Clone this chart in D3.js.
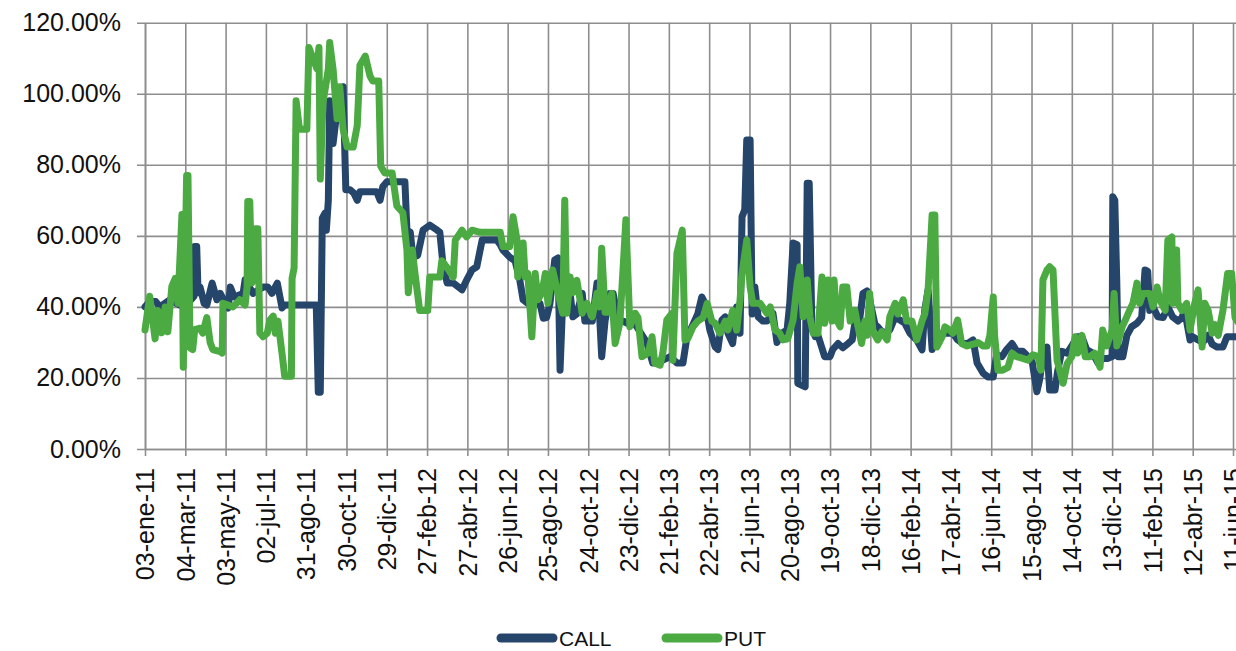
<!DOCTYPE html>
<html>
<head>
<meta charset="utf-8">
<script src="https://cdn.jsdelivr.net/npm/d3@7"></script>
<style>
  html, body { margin: 0; padding: 0; background: #ffffff; }
  svg { display: block; }
</style>
</head>
<body>
<svg id="chart" width="1236" height="651"></svg>
<script>
// ---------------- DATA ----------------
const seriesNames = ["CALL", "PUT"];

const tickDates = ["2011-01-03","2011-03-04","2011-05-03","2011-07-02","2011-08-31","2011-10-30","2011-12-29",
  "2012-02-27","2012-04-27","2012-06-26","2012-08-25","2012-10-24","2012-12-23","2013-02-21","2013-04-22",
  "2013-06-21","2013-08-20","2013-10-19","2013-12-18","2014-02-16","2014-04-17","2014-06-16","2014-08-15",
  "2014-10-14","2014-12-13","2015-02-11","2015-04-12","2015-06-11"];

const yTicks = [0, 20, 40, 60, 80, 100, 120];

const callDates = [
"2011-01-03","2011-01-10","2011-01-19","2011-01-25","2011-02-09","2011-02-24","2011-03-08","2011-03-17","2011-03-18","2011-03-21",
"2011-03-23","2011-03-26","2011-04-01","2011-04-05","2011-04-13","2011-04-20","2011-04-25","2011-05-07","2011-05-10","2011-05-16",
"2011-05-29","2011-06-01","2011-06-13","2011-06-28","2011-07-05","2011-07-11","2011-07-19","2011-07-26","2011-07-30","2011-09-10",
"2011-09-15","2011-09-18","2011-09-21","2011-09-24","2011-09-28","2011-09-30","2011-10-03","2011-10-05","2011-10-10","2011-10-16",
"2011-10-20","2011-10-25","2011-10-29","2011-11-04","2011-11-10","2011-11-15","2011-11-19","2011-12-14","2011-12-19","2011-12-23",
"2011-12-29","2012-01-25","2012-01-28","2012-02-02","2012-02-06","2012-02-13","2012-02-21","2012-03-02","2012-03-13","2012-03-17",
"2012-03-22","2012-03-28","2012-04-06","2012-04-19","2012-04-26","2012-05-04","2012-05-11","2012-05-16","2012-05-19","2012-06-10",
"2012-06-15","2012-06-19","2012-06-29","2012-07-07","2012-07-14","2012-07-19","2012-07-26","2012-08-03","2012-08-13","2012-08-18",
"2012-08-23","2012-08-28","2012-09-04","2012-09-09","2012-09-12","2012-09-16","2012-09-22","2012-09-27","2012-10-01","2012-10-07",
"2012-10-15","2012-10-19","2012-10-30","2012-11-06","2012-11-10","2012-11-13","2012-11-18","2012-11-25","2012-11-30","2012-12-06",
"2012-12-10","2012-12-15","2012-12-25","2012-12-30","2013-01-09","2013-01-19","2013-01-28","2013-02-12","2013-02-23","2013-03-05",
"2013-03-14","2013-03-20","2013-03-24","2013-04-01","2013-04-05","2013-04-11","2013-04-16","2013-04-23","2013-05-01","2013-05-05",
"2013-05-11","2013-05-16","2013-05-20","2013-05-27","2013-06-02","2013-06-07","2013-06-10","2013-06-14","2013-06-17","2013-06-22",
"2013-06-25","2013-06-29","2013-07-04","2013-07-11","2013-07-17","2013-07-26","2013-08-01","2013-08-08","2013-08-16","2013-08-20",
"2013-08-25","2013-08-31","2013-09-01","2013-09-12","2013-09-15","2013-09-18","2013-09-22","2013-09-27","2013-09-30","2013-10-11",
"2013-10-19","2013-10-23","2013-10-31","2013-11-07","2013-11-15","2013-11-21","2013-11-25","2013-12-02","2013-12-07","2013-12-13",
"2013-12-17","2013-12-25","2013-12-29","2014-01-06","2014-01-16","2014-01-24","2014-01-31","2014-02-07","2014-02-15","2014-02-25",
"2014-03-05","2014-03-09","2014-03-14","2014-03-20","2014-03-27","2014-04-04","2014-04-11","2014-04-20","2014-04-27","2014-05-05",
"2014-05-12","2014-05-20","2014-05-26","2014-06-04","2014-06-11","2014-06-19","2014-06-24","2014-07-02","2014-07-09","2014-07-17",
"2014-07-24","2014-08-02","2014-08-10","2014-08-16","2014-08-23","2014-08-27","2014-09-01","2014-09-07","2014-09-11","2014-09-19",
"2014-09-23","2014-09-29","2014-10-07","2014-10-14","2014-10-22","2014-10-29","2014-11-05","2014-11-14","2014-11-22","2014-11-29",
"2014-12-07","2014-12-13","2014-12-14","2014-12-17","2014-12-20","2014-12-22","2014-12-29","2015-01-04","2015-01-11","2015-01-19",
"2015-01-26","2015-01-31","2015-02-04","2015-02-07","2015-02-12","2015-02-19","2015-02-27","2015-03-06","2015-03-13","2015-03-21",
"2015-03-27","2015-03-31","2015-04-08","2015-04-12","2015-04-20","2015-04-27","2015-05-05","2015-05-11","2015-05-18","2015-05-27",
"2015-06-02","2015-06-09","2015-06-15","2015-06-24"];

const callValues = [
40,41.5,41.5,40,42,40.5,41,43,57,57,
44,45.6,41,40.5,46.7,42,43.8,39.7,45.6,42.8,
43.8,47.6,43.8,45.6,45.6,43.8,46.7,39.7,40.5,40.5,
40.5,16,16,65,66.4,61.6,70,98,86,95.4,
93,102,73,73,72,70,72.4,72.4,70,73.8,
75.2,75.2,61.6,61,54,54.5,61.6,63,61.6,61,
51.3,46.7,46.7,44.8,47.6,50.4,51.3,56,58.8,58.8,
57.5,56,54,53,47.6,42,41,42,41,36.8,
37,41,53.2,53.8,22.2,42,40,43.8,37.2,38,
43.8,36,36,46.7,37,26,36,43.8,43.8,38,
36,36,35,36,33,30,24.2,25,26,24.2,
24.2,31.6,33,36.3,38,42.8,41,33.5,28.7,28,
36.3,37.2,32.6,29.7,40,32.6,65.4,67.3,87,87,
38,45.6,37.2,36,36,38.2,30,32.6,33.5,41,
58,57.5,18.5,17.5,74.8,74.8,34,31.6,32.6,26,
26,28,29.7,28.5,29.7,30.7,35.4,36.3,43.8,44.5,
42,35,34.4,32.6,33.5,37.2,36.3,35.5,32.6,30.7,
27.9,39,44.8,28,31.6,32.6,32.6,32.6,30.7,29.7,
29.7,30.7,24.2,21.3,20.3,20.3,26.5,26,28,29.7,
27.5,27.5,26,24.5,16.1,19.5,26,28.7,16.6,16.6,
22,27.5,27,29,31.6,31.6,28,27,24.2,25.5,
25.5,26,71,70,46.7,26,26,32,34.4,35.4,
37,50.4,50,39,40,37.2,37,40,37.2,36,
37,39,30.7,31.6,30.7,30,32,29.5,28.7,28.7,
31.6,31.6,31.6,31];

const putDates = [
"2011-01-03","2011-01-10","2011-01-18","2011-01-22","2011-01-28","2011-02-02","2011-02-06","2011-02-12","2011-02-17","2011-02-21",
"2011-02-27","2011-03-01","2011-03-06","2011-03-08","2011-03-11","2011-03-15","2011-03-18","2011-03-26","2011-03-30","2011-04-05",
"2011-04-10","2011-04-14","2011-04-25","2011-04-28","2011-04-29","2011-05-14","2011-05-24","2011-06-01","2011-06-04","2011-06-05",
"2011-06-08","2011-06-11","2011-06-14","2011-06-17","2011-06-20","2011-06-23","2011-06-28","2011-07-04","2011-07-08","2011-07-13",
"2011-07-16","2011-07-20","2011-07-26","2011-07-30","2011-08-09","2011-08-10","2011-08-13","2011-08-16","2011-08-21","2011-09-01",
"2011-09-04","2011-09-16","2011-09-19","2011-09-21","2011-09-25","2011-10-03","2011-10-05","2011-10-10","2011-10-16","2011-10-20",
"2011-10-25","2011-10-31","2011-11-09","2011-11-15","2011-11-19","2011-11-27","2011-12-04","2011-12-08","2011-12-17","2011-12-20",
"2011-12-26","2012-01-06","2012-01-13","2012-01-22","2012-01-28","2012-01-30","2012-02-05","2012-02-09","2012-02-16","2012-02-28",
"2012-03-02","2012-03-17","2012-03-20","2012-03-28","2012-04-06","2012-04-09","2012-04-19","2012-04-26","2012-05-04","2012-05-16",
"2012-06-15","2012-06-19","2012-06-29","2012-07-04","2012-07-10","2012-07-11","2012-07-19","2012-07-22","2012-07-26","2012-08-01",
"2012-08-06","2012-08-10","2012-08-16","2012-08-21","2012-08-25","2012-09-01","2012-09-09","2012-09-16","2012-09-19","2012-09-22",
"2012-09-27","2012-10-01","2012-10-07","2012-10-15","2012-10-22","2012-10-30","2012-11-06","2012-11-10","2012-11-13","2012-11-18",
"2012-11-22","2012-11-28","2012-12-03","2012-12-10","2012-12-15","2012-12-19","2012-12-25","2013-01-02","2013-01-06","2013-01-12",
"2013-01-21","2013-01-27","2013-01-31","2013-02-08","2013-02-12","2013-02-18","2013-02-26","2013-02-27","2013-03-05","2013-03-13",
"2013-03-17","2013-03-21","2013-03-29","2013-04-05","2013-04-13","2013-04-19","2013-04-26","2013-05-01","2013-05-08","2013-05-16",
"2013-05-20","2013-05-27","2013-06-02","2013-06-07","2013-06-10","2013-06-17","2013-06-22","2013-06-26","2013-07-07","2013-07-17",
"2013-07-22","2013-07-29","2013-08-05","2013-08-10","2013-08-17","2013-08-25","2013-08-31","2013-09-04","2013-09-09","2013-09-15",
"2013-09-19","2013-09-24","2013-10-01","2013-10-07","2013-10-11","2013-10-16","2013-10-22","2013-10-25","2013-10-29","2013-11-03",
"2013-11-07","2013-11-13","2013-11-18","2013-11-25","2013-11-29","2013-12-05","2013-12-10","2013-12-13","2013-12-17","2013-12-22",
"2013-12-29","2014-01-04","2014-01-12","2014-01-16","2014-01-24","2014-01-28","2014-02-05","2014-02-10","2014-02-18","2014-02-25",
"2014-03-05","2014-03-09","2014-03-14","2014-03-20","2014-03-24","2014-03-27","2014-04-04","2014-04-08","2014-04-15","2014-04-20",
"2014-04-27","2014-05-03","2014-05-11","2014-05-20","2014-05-27","2014-06-04","2014-06-10","2014-06-14","2014-06-19","2014-06-21",
"2014-06-26","2014-07-03","2014-07-11","2014-07-17","2014-07-24","2014-08-02","2014-08-10","2014-08-17","2014-08-25","2014-08-29",
"2014-09-01","2014-09-07","2014-09-11","2014-09-16","2014-09-22","2014-10-01","2014-10-07","2014-10-14","2014-10-19","2014-10-23",
"2014-10-29","2014-11-03","2014-11-10","2014-11-17","2014-11-25","2014-11-29","2014-12-05","2014-12-13","2014-12-16","2014-12-20",
"2014-12-28","2015-01-01","2015-01-08","2015-01-13","2015-01-19","2015-01-23","2015-01-28","2015-02-07","2015-02-12","2015-02-18",
"2015-02-22","2015-03-02","2015-03-06","2015-03-12","2015-03-13","2015-03-19","2015-03-21","2015-03-27","2015-04-03","2015-04-08",
"2015-04-15","2015-04-20","2015-04-26","2015-04-30","2015-05-05","2015-05-11","2015-05-15","2015-05-20","2015-05-27","2015-06-03",
"2015-06-09","2015-06-14","2015-06-21"];

const putValues = [
33.5,43,31,39,32.7,40,33,45.8,48,41,
66,23,77,77,28.5,28,33.6,34,32.6,37,
30,28,27.4,27,41,40,42,40.5,45.6,69.7,
69.7,46.7,48,62,62,32.6,31.6,32.6,36.3,37.4,
32.6,36,27,20.5,20.5,48,51,98,90,90,
113,107,113,76,97.5,107,114.4,107,93,102,
90,85,85,91,108,110.6,105,103.6,103.6,79.6,
77.7,77.7,68.4,66.5,56,44,56,49.4,39,39,
48.4,48.4,53,51,48.4,58.8,61.6,59.7,61.6,61,
61,57,57,65.4,58.8,48.4,58,48.4,49.4,31.6,
49.4,42,44,49.4,41,50.4,43.8,38.2,70,38.2,
48.4,44,47.5,38.2,41,37.2,43.8,40,56.5,38.5,
38.5,43.8,29.7,35.4,51.3,64.5,34.4,38.2,37,26,
27,31.6,24.2,23.6,27,36.3,38.2,25,55,61.6,
30.7,31,34.4,36,37,41,36,35.4,32.6,36,
33.5,39,33.5,42,49.4,58.8,45.6,41,41,38.2,
40,33.5,32.6,30.7,31,36.3,46.7,51.3,37.2,47.6,
37.2,32.6,32.6,48.4,35.4,47.6,36,47.6,36.3,34.4,
45.6,45.6,36,39,35,29.7,36,32,43.8,33,
30.7,33,30.7,37.2,41,38,42,36,36,30.7,
36,38,44.8,65.9,65.9,28.7,31.6,34.4,33.5,32.6,
36.3,29.7,29,29.5,30,29,29,32,42.8,32,
22.2,22.2,23,27,26,25.5,25,26.5,26,22.2,
47.6,50.4,51.3,50.4,25,18.5,24,26,31.6,27,
32,26,26,27,23,33.5,29,33.5,43.8,29,
34.4,36,39,41,46.7,41,43.8,43.8,40,45.6,
42,39,58.8,59.7,41,56,41,39,41,33.5,
41,44.8,28.7,41,39,32.6,35,32,39,49.4,
49.4,37,35];

const seriesColors = ["#26456B", "#4BAA42"];

// ---------------- CHART ----------------
const parse = d3.timeParse("%Y-%m-%d");
const es = d3.timeFormatLocale({
  dateTime: "%A, %e de %B de %Y, %X", date: "%d/%m/%Y", time: "%H:%M:%S",
  periods: ["AM", "PM"],
  days: ["domingo","lunes","martes","miércoles","jueves","viernes","sábado"],
  shortDays: ["dom","lun","mar","mié","jue","vie","sáb"],
  months: ["enero","febrero","marzo","abril","mayo","junio","julio","agosto","septiembre","octubre","noviembre","diciembre"],
  shortMonths: ["ene","feb","mar","abr","may","jun","jul","ago","sep","oct","nov","dic"]
});
const fmtTick = es.format("%d-%b-%y");

const plotLeft = 145, plotRight = 1233, plotTop = 22.7, plotBottom = 449;
const svg = d3.select("#chart");
const font = "'Liberation Sans', Arial, sans-serif";

const x = d3.scaleTime()
  .domain([parse(tickDates[0]), parse(tickDates[tickDates.length - 1])])
  .range([plotLeft, plotRight]);
const y = d3.scaleLinear().domain([0, 120]).range([plotBottom, plotTop]);

const gridColor = "#8E8E8E";

// Y axis with horizontal gridlines
const yAxis = d3.axisLeft(y)
  .tickValues(yTicks)
  .tickSizeInner(-(1240 - plotLeft))
  .tickSizeOuter(0)
  .tickPadding(24)
  .tickFormat(d => d.toFixed(2) + "%");
const gy = svg.append("g").attr("transform", `translate(${plotLeft},0)`).call(yAxis);
gy.select(".domain").attr("stroke", gridColor).attr("stroke-width", 1.6);
gy.selectAll(".tick line").attr("x1", -8).attr("stroke", gridColor).attr("stroke-width", 1.6);
gy.selectAll(".tick text").attr("font-family", font).attr("font-size", 25).attr("fill", "#111");

// X axis with vertical gridlines
const xAxis = d3.axisBottom(x)
  .tickValues(tickDates.map(parse))
  .tickSizeInner(7)
  .tickSizeOuter(0)
  .tickFormat(fmtTick);
const gx = svg.append("g").attr("transform", `translate(0,${plotBottom})`).call(xAxis);
gx.select(".domain").attr("stroke", gridColor).attr("stroke-width", 1.6);
gx.selectAll(".tick line").attr("y1", -(plotBottom - plotTop)).attr("stroke", gridColor).attr("stroke-width", 1.6);
gx.selectAll(".tick text")
  .attr("font-family", font).attr("font-size", 25).attr("fill", "#111")
  .attr("transform", "rotate(-90)")
  .attr("text-anchor", "end")
  .attr("x", -19).attr("y", 0).attr("dy", "0.35em");

// Lines
const callData = callDates.map((d, i) => ({ date: parse(d), v: callValues[i] }));
const putData = putDates.map((d, i) => ({ date: parse(d), v: putValues[i] }));
const line = d3.line().x(d => x(d.date)).y(d => y(d.v));

[callData, putData].forEach((data, i) => {
  svg.append("path")
    .datum(data)
    .attr("d", line)
    .attr("fill", "none")
    .attr("stroke", seriesColors[i])
    .attr("stroke-width", 7)
    .attr("stroke-linejoin", "round")
    .attr("stroke-linecap", "round");
});

// Legend
const legendX = [501, 666];
seriesNames.forEach((name, i) => {
  const g = svg.append("g");
  g.append("line")
    .attr("x1", legendX[i]).attr("x2", legendX[i] + 52)
    .attr("y1", 638).attr("y2", 638)
    .attr("stroke", seriesColors[i]).attr("stroke-width", 9)
    .attr("stroke-linecap", "round");
  g.append("text")
    .attr("x", legendX[i] + 58).attr("y", 646)
    .attr("font-family", font).attr("font-size", 21).attr("fill", "#111")
    .text(name);
});
</script>
</body>
</html>
